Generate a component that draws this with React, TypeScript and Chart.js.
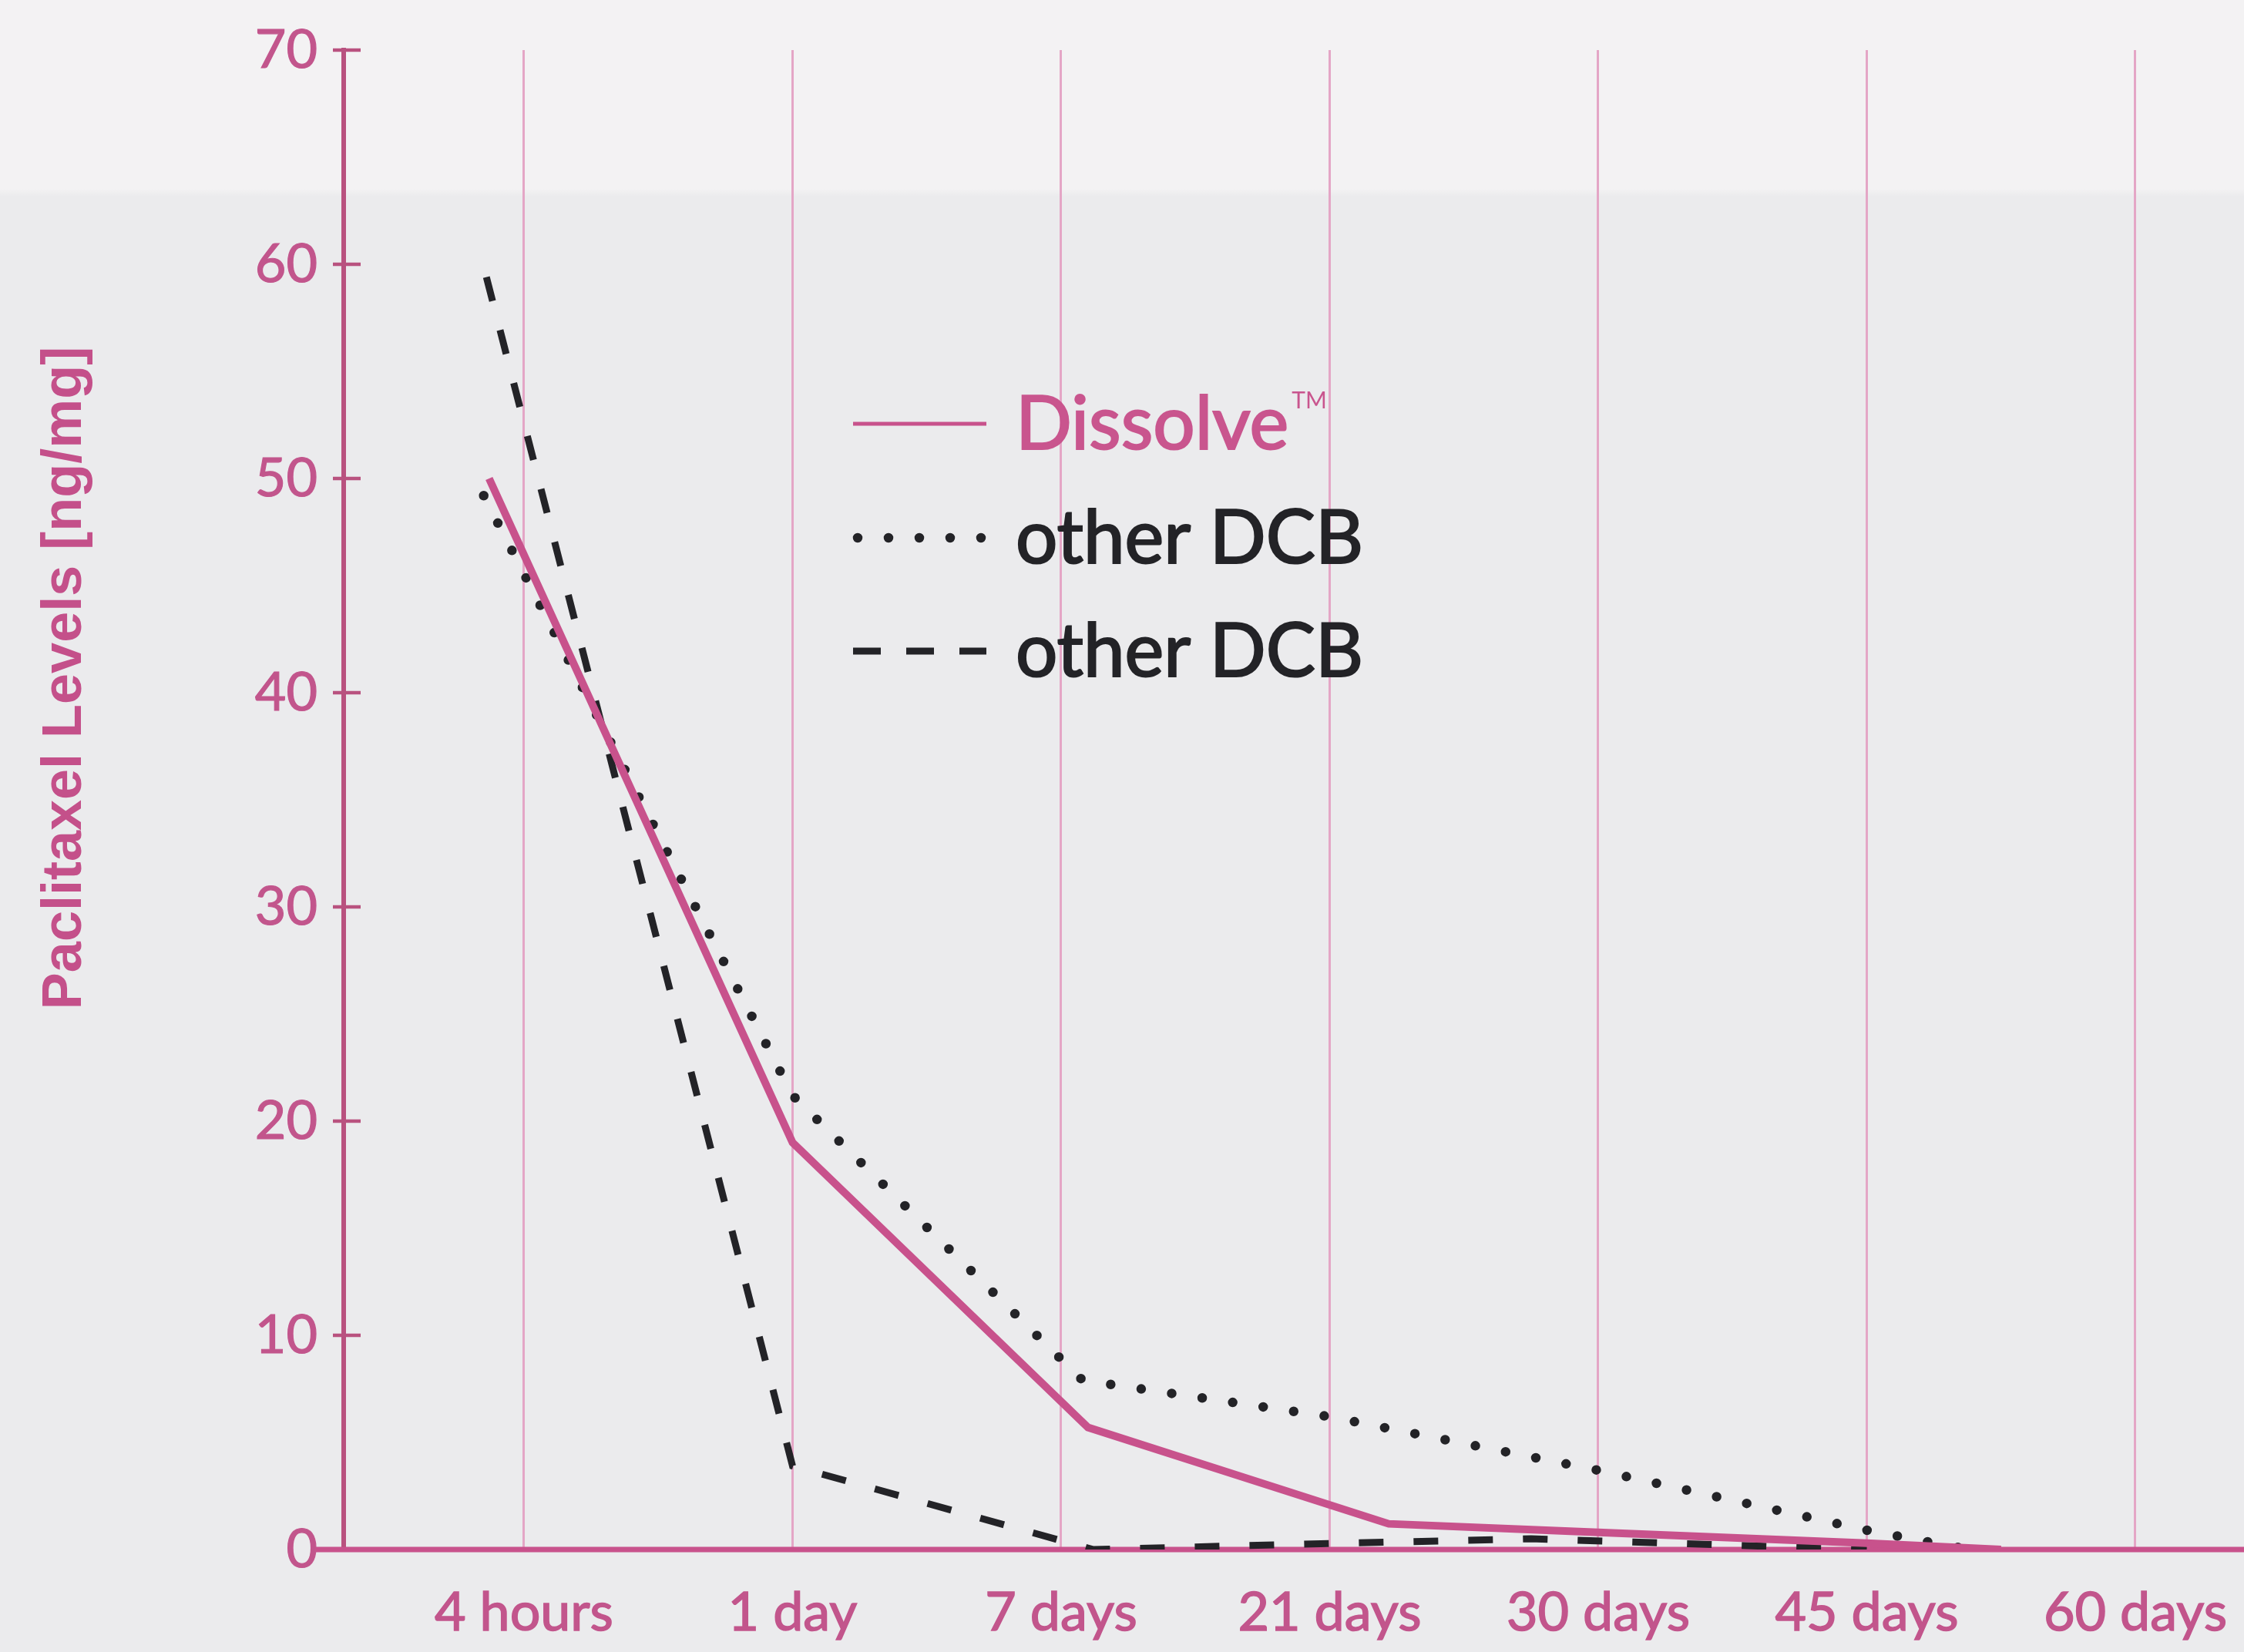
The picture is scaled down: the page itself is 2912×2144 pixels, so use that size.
import React, { useEffect, useRef } from "react";
import { Chart, registerables } from "chart.js";

Chart.register(...registerables);

// ---- data ----
const categories = ["4 hours", "1 day", "7 days", "21 days", "30 days", "45 days", "60 days"];
const categoryPositions = [1, 2, 3, 4, 5, 6, 7];
const yTicks = [0, 10, 20, 30, 40, 50, 60, 70];

const seriesLabels = ["Dissolve", "other DCB", "other DCB"];

const dissolveX = [0.87, 2, 3.1, 4.22, 5, 6, 6.5];
const dissolveY = [50, 19, 5.7, 1.2, 0.8, 0.3, 0];

const dottedX = [0.85, 2, 3.08, 4, 5, 6, 6.38];
const dottedY = [49.2, 21.2, 7.9, 6.2, 3.7, 0.9, 0];

const dashedX = [0.86, 2, 3.12, 4, 4.75, 6];
const dashedY = [59.4, 3.9, 0, 0.28, 0.5, 0];

const yTitle = "Paclitaxel Levels [ng/mg]";

// ---- styles ----
const W = 2912;
const H = 2144;
const PINK = "#c8528c";
const MAUVE = "#b9527f";
const TICK_TEXT = "#c2558c";
const GRID = "#e4a6c6";
const DARK = "#232327";

const toPoints = (xs: number[], ys: number[]) => xs.map((x, i) => ({ x, y: ys[i] }));

const decorPlugin = {
  id: "decor",
  beforeDatasetsDraw(chart: any) {
    const { ctx, chartArea, scales } = chart;
    const y = scales.y;
    ctx.save();
    ctx.strokeStyle = MAUVE;
    ctx.lineWidth = 4.5;
    yTicks.forEach((v) => {
      const py = y.getPixelForValue(v);
      ctx.beginPath();
      ctx.moveTo(chartArea.left - 14, py);
      ctx.lineTo(chartArea.left + 22, py);
      ctx.stroke();
    });
    const p0 = y.getPixelForValue(0);
    ctx.strokeStyle = PINK;
    ctx.lineWidth = 7;
    ctx.beginPath();
    ctx.moveTo(chartArea.left - 36, p0);
    ctx.lineTo(chart.width, p0);
    ctx.stroke();
    ctx.restore();
  },
  afterDraw(chart: any) {
    const { ctx } = chart;
    ctx.save();
    // y title
    ctx.translate(85, 880);
    ctx.rotate(-Math.PI / 2);
    ctx.font = "bold 72px 'Liberation Sans', Arial, sans-serif";
    ctx.fillStyle = "#c4508a";
    ctx.textAlign = "center";
    ctx.textBaseline = "middle";
    ctx.fillText(yTitle, 0, 0);
    ctx.restore();

    // legend
    const rows = [550, 698, 845];
    const x1 = 1107;
    const x2 = 1280;
    const tx = 1318;
    chart.data.datasets.forEach((ds: any, i: number) => {
      const ry = rows[i];
      ctx.save();
      ctx.strokeStyle = ds.borderColor;
      ctx.lineWidth = i === 0 ? 5 : ds.borderWidth;
      ctx.lineCap = ds.borderCapStyle || "butt";
      ctx.setLineDash(i === 2 ? [36, 33] : ds.borderDash || []);
      ctx.beginPath();
      ctx.moveTo(i === 1 ? x1 + 6 : x1, ry);
      ctx.lineTo(x2, ry);
      ctx.stroke();
      ctx.setLineDash([]);
      const color = i === 0 ? "#c9558e" : DARK;
      ctx.font = "96px Lato, sans-serif";
      ctx.fillStyle = color;
      ctx.strokeStyle = color;
      ctx.lineWidth = 2.2;
      ctx.lineCap = "butt";
      ctx.textAlign = "left";
      ctx.textBaseline = "alphabetic";
      ctx.fillText(ds.label, tx, ry + 33);
      ctx.strokeText(ds.label, tx, ry + 33);
      if (i === 0) {
        const w = ctx.measureText(ds.label).width;
        ctx.font = "30px Lato, sans-serif";
        ctx.fillText("TM", tx + w + 4, ry - 20);
      }
      ctx.restore();
    });
  },
};

export default function App() {
  const ref = useRef<HTMLCanvasElement>(null);
  useEffect(() => {
    document.body.style.margin = "0";
    const canvas = ref.current;
    if (!canvas) return;
    const chart = new Chart(canvas, {
      type: "line",
      data: {
        datasets: [
          {
            label: seriesLabels[0],
            data: toPoints(dissolveX, dissolveY),
            borderColor: PINK,
            borderWidth: 10,
            pointRadius: 0,
            tension: 0,
          },
          {
            label: seriesLabels[1],
            data: toPoints(dottedX, dottedY),
            borderColor: DARK,
            borderWidth: 12.5,
            borderDash: [0, 40],
            borderCapStyle: "round",
            pointRadius: 0,
            tension: 0,
          },
          {
            label: seriesLabels[2],
            data: toPoints(dashedX, dashedY),
            borderColor: DARK,
            borderWidth: 9,
            borderDash: [32, 39],
            pointRadius: 0,
            tension: 0,
          },
        ],
      },
      options: {
        responsive: false,
        devicePixelRatio: 1,
        animation: false,
        layout: { padding: { top: 65, left: 0, right: 0, bottom: 0 } },
        plugins: { legend: { display: false }, tooltip: { enabled: false }, title: { display: false } },
        scales: {
          x: {
            type: "linear",
            min: 0.3286,
            max: 7.4046,
            afterBuildTicks: (scale: any) => {
              scale.ticks = categoryPositions.map((v) => ({ value: v }));
            },
            afterFit: (scale: any) => {
              scale.height = 133;
              scale.paddingLeft = 0;
              scale.paddingRight = 0;
            },
            grid: { color: GRID, lineWidth: 3, drawTicks: false },
            border: { display: false },
            ticks: {
              color: TICK_TEXT,
              font: { family: "Lato", size: 70 },
              textStrokeColor: TICK_TEXT,
              textStrokeWidth: 1.5,
              padding: 40,
              maxRotation: 0,
              autoSkip: false,
              callback: (value: any) => {
                const idx = categoryPositions.indexOf(Number(value));
                return idx >= 0 ? categories[idx] : "";
              },
            },
          },
          y: {
            type: "linear",
            min: 0,
            max: 70,
            afterBuildTicks: (scale: any) => {
              scale.ticks = yTicks.map((v) => ({ value: v }));
            },
            afterFit: (scale: any) => {
              scale.width = 446;
              scale.paddingTop = 0;
              scale.paddingBottom = 0;
            },
            grid: { display: false, drawTicks: false },
            border: { display: true, color: MAUVE, width: 6 },
            ticks: {
              color: TICK_TEXT,
              font: { family: "Lato", size: 70 },
              textStrokeColor: TICK_TEXT,
              textStrokeWidth: 1.2,
              padding: 34,
            },
          },
        },
      },
      plugins: [decorPlugin],
    } as any);
    return () => chart.destroy();
  }, []);

  return (
    <div
      style={{
        position: "fixed",
        left: 0,
        top: 0,
        width: W,
        height: H,
        background: "linear-gradient(#f3f2f3 0px, #f3f2f3 245px, #ebebed 255px, #ebebed 100%)",
      }}
    >
      <canvas ref={ref} width={W} height={H} style={{ display: "block", width: W, height: H }} />
    </div>
  );
}
